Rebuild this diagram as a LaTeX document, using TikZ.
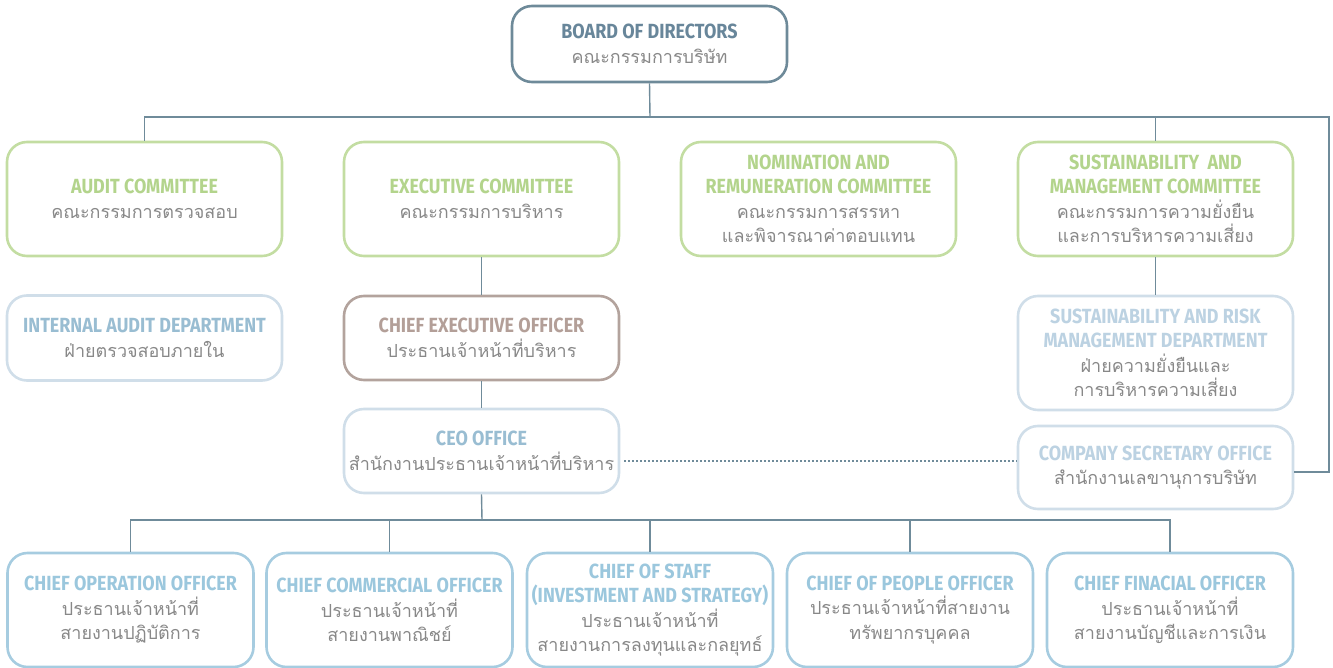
\documentclass[tikz,border=0pt]{standalone}
\usepackage{fontspec}
\newfontfamily\enfont{Fira Sans}[FakeStretch=0.875]
\newfontfamily\thaifont[Script=Thai]{Loma}
\definecolor{lineC}{HTML}{6F8B9A}
\definecolor{boardC}{HTML}{6E8A99}
\definecolor{boardT}{HTML}{68869A}
\definecolor{greenB}{HTML}{C3DDA2}
\definecolor{greenT}{HTML}{B3D48C}
\definecolor{lightB}{HTML}{D0DEE9}
\definecolor{lightT}{HTML}{99BDD2}
\definecolor{paleT}{HTML}{BCD2E2}
\definecolor{brownB}{HTML}{B3A39D}
\definecolor{brownT}{HTML}{B39F98}
\definecolor{blueB}{HTML}{A6CCE0}
\definecolor{blueT}{HTML}{9BC7DD}
\definecolor{thaiT}{HTML}{888888}
\newcommand{\entxt}[2]{{\fontsize{20.5}{24.5}\selectfont\enfont\bfseries\color{#1}#2}}
\newcommand{\thtxt}[1]{{\fontsize{18}{24.5}\selectfont\thaifont\color{thaiT}#1}}
\tikzset{
  box/.style={draw, rounded corners=20pt, line width=2.6pt, align=center, inner sep=0pt,
    font={\fontsize{18}{24.5}\selectfont}},
  board/.style={box, draw=boardC, minimum width=275pt, minimum height=76pt},
  green/.style={box, draw=greenB, minimum width=275pt, minimum height=114pt},
  light/.style={box, draw=lightB, minimum width=275pt},
  brown/.style={box, draw=brownB, minimum width=275pt, minimum height=84pt},
  bottom/.style={box, draw=blueB, minimum width=246pt, minimum height=114pt},
  conn/.style={draw=lineC, line width=1.4pt},
  dotconn/.style={draw=lineC, line width=2pt, dash pattern=on 2pt off 2pt}
}
\begin{document}
\begin{tikzpicture}[x=1pt,y=-1pt]
\useasboundingbox (0,0) rectangle (1333,668);
% top
\node[board] (bod) at (649.5,44) {\entxt{boardT}{BOARD OF DIRECTORS}\\\thtxt{คณะกรรมการบริษัท}};
% row 1
\node[green] (audit) at (144.5,199) {\entxt{greenT}{AUDIT COMMITTEE}\\\thtxt{คณะกรรมการตรวจสอบ}};
\node[green] (exec) at (481.5,199) {\entxt{greenT}{EXECUTIVE COMMITTEE}\\\thtxt{คณะกรรมการบริหาร}};
\node[green] (nom) at (818.5,199) {\entxt{greenT}{NOMINATION AND}\\\entxt{greenT}{REMUNERATION COMMITTEE}\\\thtxt{คณะกรรมการสรรหา}\\\thtxt{และพิจารณาค่าตอบแทน}};
\node[green] (sus) at (1155.5,199) {\entxt{greenT}{SUSTAINABILITY\ \ AND}\\\entxt{greenT}{MANAGEMENT COMMITTEE}\\\thtxt{คณะกรรมการความยั่งยืน}\\\thtxt{และการบริหารความเสี่ยง}};
% row 2
\node[light, minimum height=85pt] (iad) at (144.5,338) {\entxt{lightT}{INTERNAL AUDIT DEPARTMENT}\\\thtxt{ฝ่ายตรวจสอบภายใน}};
\node[brown] (ceo) at (481.5,338) {\entxt{brownT}{CHIEF EXECUTIVE OFFICER}\\\thtxt{ประธานเจ้าหน้าที่บริหาร}};
\node[light, minimum height=114pt] (srm) at (1155.5,353) {\entxt{paleT}{SUSTAINABILITY AND RISK}\\\entxt{paleT}{MANAGEMENT DEPARTMENT}\\\thtxt{ฝ่ายความยั่งยืนและ}\\\thtxt{การบริหารความเสี่ยง}};
% row 3
\node[light, minimum height=84pt] (ceoo) at (481.5,451) {\entxt{lightT}{CEO OFFICE}\\\thtxt{สำนักงานประธานเจ้าหน้าที่บริหาร}};
\node[light, minimum height=83pt] (cso) at (1155.5,467.5) {\entxt{paleT}{COMPANY SECRETARY OFFICE}\\\thtxt{สำนักงานเลขานุการบริษัท}};
% bottom row
\node[bottom] (coo) at (130.5,610) {\entxt{blueT}{CHIEF OPERATION OFFICER}\\\thtxt{ประธานเจ้าหน้าที่}\\\thtxt{สายงานปฏิบัติการ}};
\node[bottom] (cco) at (389.5,610) {\entxt{blueT}{CHIEF COMMERCIAL OFFICER}\\\thtxt{ประธานเจ้าหน้าที่}\\\thtxt{สายงานพาณิชย์}};
\node[bottom] (cos) at (650,610) {\entxt{blueT}{CHIEF OF STAFF}\\\entxt{blueT}{(INVESTMENT AND STRATEGY)}\\\thtxt{ประธานเจ้าหน้าที่}\\\thtxt{สายงานการลงทุนและกลยุทธ์}};
\node[bottom] (cpo) at (910,610) {\entxt{blueT}{CHIEF OF PEOPLE OFFICER}\\\thtxt{ประธานเจ้าหน้าที่สายงาน}\\\thtxt{ทรัพยากรบุคคล}};
\node[bottom] (cfo) at (1170,610) {\entxt{blueT}{CHIEF FINACIAL OFFICER}\\\thtxt{ประธานเจ้าหน้าที่}\\\thtxt{สายงานบัญชีและการเงิน}};
% connectors
\coordinate (topbus) at (650,117);
\coordinate (rightcorner) at (1329,117);
\coordinate (rightlow) at (1329,472);
\coordinate (botbus) at (482,520);
\draw[conn] (bod.south) -- (topbus);
\draw[conn] (audit.north) |- (rightcorner) -- (rightlow) -- (rightlow -| cso.east);
\draw[conn] (sus.north) -- (sus.north |- topbus);
\draw[conn] (sus.south) -- (srm.north);
\draw[conn] (exec.south) -- (ceo.north);
\draw[conn] (ceo.south) -- (ceoo.north);
\draw[conn] (ceoo.south) -- (botbus);
\draw[conn] (coo.north) |- (botbus -| cfo.north) -- (cfo.north);
\draw[conn] (cco.north) -- (cco.north |- botbus);
\draw[conn] (cos.north) -- (cos.north |- botbus);
\draw[conn] (cpo.north) -- (cpo.north |- botbus);
\draw[dotconn] ([xshift=4pt]ceoo.east |- 0,461) -- (cso.west |- 0,461);
\end{tikzpicture}
\end{document}
